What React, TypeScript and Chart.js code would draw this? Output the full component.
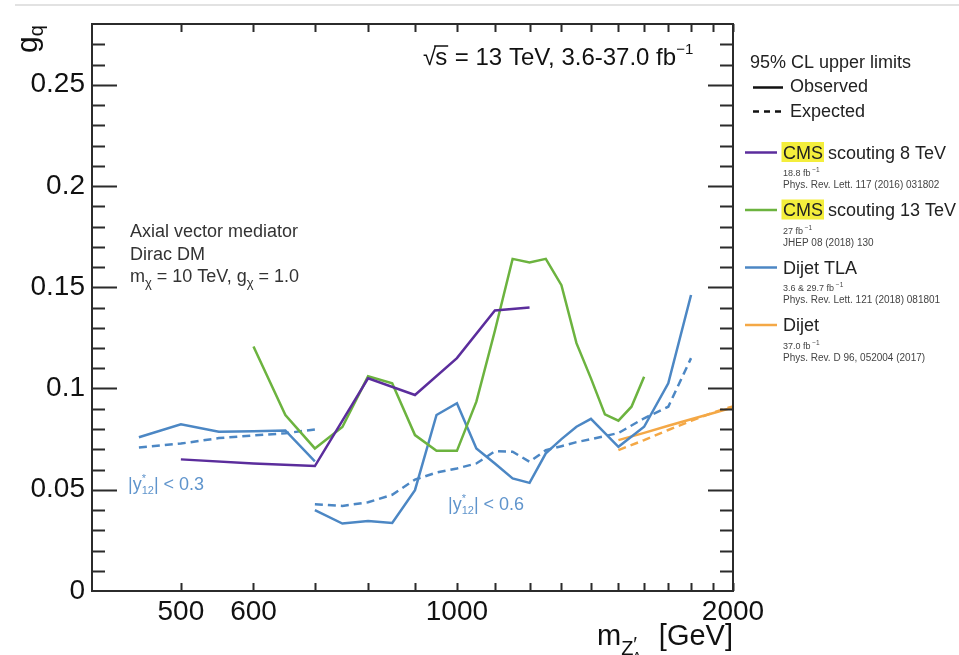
import React, { useEffect, useRef } from 'react';
import { Chart, registerables } from 'chart.js';

Chart.register(...registerables);

// ---------------- data ----------------
const xTickValues = [500, 600, 700, 800, 900, 1000, 1100, 1200, 1300, 1400, 1500, 1600, 1700, 1800, 1900, 2000];
const xLabelled = [500, 600, 1000, 2000];
const yTickValues = [0, 0.05, 0.1, 0.15, 0.2, 0.25];
const yTickLabels = ['0', '0.05', '0.1', '0.15', '0.2', '0.25'];

// Dijet TLA |y*12| < 0.3
const tla03Mass = [450, 500, 550, 600, 650, 700];
const tla03Obs = [0.0759, 0.0823, 0.0786, 0.0789, 0.0793, 0.064];
const tla03Exp = [0.0709, 0.0728, 0.0755, 0.0768, 0.0779, 0.0798];

// Dijet TLA |y*12| < 0.6
const tla06Mass = [700, 750, 800, 850, 900, 950, 1000, 1050, 1100, 1150, 1200, 1250, 1300, 1350, 1400, 1500, 1600, 1700, 1800];
const tla06Obs = [0.0399, 0.0333, 0.0346, 0.0336, 0.0498, 0.0869, 0.0927, 0.0704, 0.063, 0.0556, 0.0534, 0.068, 0.075, 0.0811, 0.085, 0.0712, 0.0811, 0.1026, 0.1462];
const tla06Exp = [0.0428, 0.042, 0.0438, 0.0475, 0.055, 0.0585, 0.0605, 0.063, 0.069, 0.0688, 0.0638, 0.0695, 0.0715, 0.0735, 0.075, 0.078, 0.0853, 0.091, 0.115];

// CMS scouting 8 TeV
const cms8Mass = [500, 600, 700, 800, 900, 1000, 1100, 1200];
const cms8Obs = [0.065, 0.063, 0.0617, 0.105, 0.0968, 0.115, 0.1385, 0.14];

// CMS scouting 13 TeV
const cms13Mass = [600, 650, 700, 750, 800, 850, 900, 950, 1000, 1050, 1100, 1150, 1200, 1250, 1300, 1350, 1400, 1450, 1500, 1550, 1600];
const cms13Obs = [0.1207, 0.0869, 0.0704, 0.081, 0.106, 0.1026, 0.077, 0.0692, 0.0692, 0.0935, 0.1285, 0.164, 0.1622, 0.164, 0.151, 0.1224, 0.105, 0.0872, 0.0841, 0.091, 0.1058];

// Dijet (37.0 fb-1)
const dijetMass = [1500, 1600, 1700, 1800, 1900, 2000];
const dijetObs = [0.0745, 0.0781, 0.0816, 0.0848, 0.0878, 0.0907];
const dijetExp = [0.0696, 0.0745, 0.0795, 0.084, 0.088, 0.0912];

// ---------------- styles ----------------
const PURPLE = '#5b2d9c';
const GREEN = '#6cb33f';
const BLUE = '#4c87c4';
const ORANGE = '#f4a846';
const LABEL_BLUE = '#5f94cc';
const FONT = '"Liberation Sans", Arial, Helvetica, sans-serif';
const f = (size: number) => `${size}px ${FONT}`;

const pts = (xs: number[], ys: number[]) => xs.map((x, i) => ({ x, y: ys[i] }));

type Part = { t: string; size: number; dy?: number; keepX?: boolean; color?: string };
function rich(ctx: CanvasRenderingContext2D, x: number, y: number, parts: Part[], color: string) {
  let cx = x;
  for (const p of parts) {
    ctx.font = f(p.size);
    ctx.fillStyle = p.color || color;
    ctx.fillText(p.t, cx, y + (p.dy || 0));
    if (!p.keepX) cx += ctx.measureText(p.t).width;
  }
  return cx;
}

const framePlugin = {
  id: 'rootFrame',
  afterDatasetsDraw(chart: any) {
    const { ctx, chartArea: a, scales } = chart;
    const xs = scales.x;
    const ys = scales.y;
    ctx.save();
    ctx.strokeStyle = '#2b2b2b';
    ctx.lineWidth = 2;
    ctx.strokeRect(a.left, a.top, a.right - a.left, a.bottom - a.top);
    ctx.lineWidth = 2;
    ctx.beginPath();
    for (let i = 1; i <= 27; i++) {
      const py = Math.round(ys.getPixelForValue(i / 100)) + 0.5;
      const len = i % 5 === 0 ? 25 : 13;
      ctx.moveTo(a.left, py);
      ctx.lineTo(a.left + len, py);
      ctx.moveTo(a.right, py);
      ctx.lineTo(a.right - len, py);
    }
    for (const m of xTickValues) {
      const px = Math.round(xs.getPixelForValue(m)) + 0.5;
      ctx.moveTo(px, a.bottom);
      ctx.lineTo(px, a.bottom - 8);
      ctx.moveTo(px, a.top);
      ctx.lineTo(px, a.top + 8);
    }
    ctx.stroke();
    ctx.restore();
  },
  afterDraw(chart: any) {
    const { ctx } = chart;
    ctx.save();
    ctx.textBaseline = 'alphabetic';
    ctx.textAlign = 'left';

    // light separator line at the top of the picture
    ctx.strokeStyle = '#e2e2e2';
    ctx.lineWidth = 2;
    ctx.beginPath();
    ctx.moveTo(15, 5);
    ctx.lineTo(959, 5);
    ctx.stroke();

    // sqrt(s) label
    ctx.fillStyle = '#111';
    ctx.font = f(24);
    const sqrtW = ctx.measureText('\u221A').width;
    ctx.fillText('\u221A', 423, 65);
    ctx.fillText('s', 423 + sqrtW - 1, 65);
    const sW = ctx.measureText('s').width;
    ctx.strokeStyle = '#111';
    ctx.lineWidth = 1.5;
    ctx.beginPath();
    ctx.moveTo(423 + sqrtW - 2, 46);
    ctx.lineTo(423 + sqrtW + sW, 46);
    ctx.stroke();
    rich(ctx, 423 + sqrtW + sW, 65, [
      { t: ' = 13 TeV, 3.6-37.0 fb', size: 24 },
      { t: '\u22121', size: 15, dy: -11 },
    ], '#111');

    // model annotation
    const ann = '#333';
    ctx.fillStyle = ann;
    ctx.font = f(18);
    ctx.fillText('Axial vector mediator', 130, 237);
    ctx.fillText('Dirac DM', 130, 260);
    rich(ctx, 130, 282, [
      { t: 'm', size: 18 },
      { t: '\u03C7', size: 13, dy: 5 },
      { t: ' = 10 TeV, g', size: 18 },
      { t: '\u03C7', size: 13, dy: 5 },
      { t: ' = 1.0', size: 18 },
    ], ann);

    // rapidity labels
    const yLabel = (x: number, y: number, cut: string) => {
      rich(ctx, x, y, [
        { t: '|y', size: 18 },
        { t: '*', size: 11, dy: -8, keepX: true },
        { t: '12', size: 11, dy: 4 },
        { t: '| < ' + cut, size: 18 },
      ], LABEL_BLUE);
    };
    yLabel(128, 490, '0.3');
    yLabel(448, 510, '0.6');

    // legend
    const lc = '#222';
    ctx.fillStyle = lc;
    ctx.font = f(18);
    ctx.fillText('95% CL upper limits', 750, 68);
    ctx.strokeStyle = '#111';
    ctx.lineWidth = 2.5;
    ctx.beginPath();
    ctx.moveTo(753, 87.5);
    ctx.lineTo(783, 87.5);
    ctx.stroke();
    ctx.setLineDash([6, 5]);
    ctx.beginPath();
    ctx.moveTo(753, 111.5);
    ctx.lineTo(783, 111.5);
    ctx.stroke();
    ctx.setLineDash([]);
    ctx.fillText('Observed', 790, 92);
    ctx.fillText('Expected', 790, 117);

    const entries = [
      { color: PURPLE, cms: true, title: ' scouting 8 TeV', lumi: '18.8 fb', ref: 'Phys. Rev. Lett. 117 (2016) 031802', y: 152.5 },
      { color: GREEN, cms: true, title: ' scouting 13 TeV', lumi: '27 fb', ref: 'JHEP 08 (2018) 130', y: 210 },
      { color: BLUE, cms: false, title: 'Dijet TLA', lumi: '3.6 & 29.7 fb', ref: 'Phys. Rev. Lett. 121 (2018) 081801', y: 267.5 },
      { color: ORANGE, cms: false, title: 'Dijet', lumi: '37.0 fb', ref: 'Phys. Rev. D 96, 052004 (2017)', y: 325 },
    ];
    for (const e of entries) {
      ctx.strokeStyle = e.color;
      ctx.lineWidth = 2.5;
      ctx.beginPath();
      ctx.moveTo(745, e.y);
      ctx.lineTo(777, e.y);
      ctx.stroke();
      const base = e.y + 6;
      let x = 783;
      ctx.font = f(18);
      if (e.cms) {
        const w = ctx.measureText('CMS').width;
        ctx.fillStyle = '#f4ee3c';
        ctx.fillRect(x - 1.5, e.y - 10.5, w + 2.5, 20);
        ctx.fillStyle = lc;
        ctx.fillText('CMS', x, base);
        x += w;
      }
      ctx.fillStyle = lc;
      ctx.fillText(e.title, x, base);
      rich(ctx, 783, e.y + 23.5, [
        { t: e.lumi, size: 9 },
        { t: ' \u22121', size: 6.5, dy: -4 },
      ], '#444');
      ctx.font = f(10);
      ctx.fillStyle = '#444';
      ctx.fillText(e.ref, 783, e.y + 35.5);
    }

    // x axis title
    ctx.fillStyle = '#111';
    const xx = rich(ctx, 597, 645, [{ t: 'm', size: 29 }], '#111');
    ctx.font = f(20);
    ctx.fillText('Z', xx, 655);
    const zW = ctx.measureText('Z').width;
    ctx.fillText('\u2032', xx + zW, 651);
    ctx.font = f(14);
    ctx.fillText('A', xx + zW - 1, 662);
    ctx.font = f(29);
    ctx.textAlign = 'right';
    ctx.fillText('[GeV]', 733, 645);

    // y axis title (rotated)
    ctx.textAlign = 'left';
    ctx.save();
    ctx.translate(37, 53);
    ctx.rotate(-Math.PI / 2);
    ctx.font = f(30);
    ctx.fillText('g', 0, 0);
    const gW = ctx.measureText('g').width;
    ctx.font = f(20);
    ctx.fillText('q', gW, 6);
    ctx.restore();

    ctx.restore();
  },
};

export default function App() {
  const ref = useRef<HTMLCanvasElement | null>(null);

  useEffect(() => {
    const canvas = ref.current;
    if (!canvas) return;
    const line = (label: string, data: any[], color: string, dashed: boolean) => ({
      label,
      data,
      borderColor: color,
      backgroundColor: color,
      borderWidth: 2.5,
      borderDash: dashed ? [8, 5] : [],
      pointRadius: 0,
      tension: 0,
      fill: false,
    });
    const chart = new Chart(canvas, {
      type: 'line',
      data: {
        datasets: [
          line('CMS scouting 8 TeV', pts(cms8Mass, cms8Obs), PURPLE, false),
          line('CMS scouting 13 TeV', pts(cms13Mass, cms13Obs), GREEN, false),
          line('Dijet TLA |y*|<0.3 obs', pts(tla03Mass, tla03Obs), BLUE, false),
          line('Dijet TLA |y*|<0.3 exp', pts(tla03Mass, tla03Exp), BLUE, true),
          line('Dijet TLA |y*|<0.6 obs', pts(tla06Mass, tla06Obs), BLUE, false),
          line('Dijet TLA |y*|<0.6 exp', pts(tla06Mass, tla06Exp), BLUE, true),
          line('Dijet obs', pts(dijetMass, dijetObs), ORANGE, false),
          line('Dijet exp', pts(dijetMass, dijetExp), ORANGE, true),
        ],
      },
      options: {
        animation: false,
        responsive: false,
        devicePixelRatio: 1,
        layout: { padding: { left: 0, top: 24, right: 226, bottom: 0 } },
        plugins: { legend: { display: false }, tooltip: { enabled: false } },
        scales: {
          x: {
            type: 'logarithmic',
            min: 400,
            max: 2000,
            grid: { display: false, drawTicks: false },
            border: { display: false },
            afterBuildTicks: (s: any) => {
              s.ticks = xTickValues.map((v) => ({ value: v }));
            },
            afterFit: (s: any) => {
              s.height = 64;
            },
            ticks: {
              autoSkip: false,
              maxRotation: 0,
              minRotation: 0,
              padding: 4,
              color: '#111',
              font: { family: FONT, size: 28 },
              callback: (v: any) => (xLabelled.includes(Number(v)) ? String(v) : ''),
            },
          },
          y: {
            type: 'linear',
            min: 0,
            max: 0.28,
            grid: { display: false, drawTicks: false },
            border: { display: false },
            afterBuildTicks: (s: any) => {
              s.ticks = yTickValues.map((v) => ({ value: v }));
            },
            afterFit: (s: any) => {
              s.width = 92;
            },
            ticks: {
              padding: 7,
              color: '#111',
              font: { family: FONT, size: 28 },
              callback: (_v: any, i: number) => yTickLabels[i],
            },
          },
        },
      },
      plugins: [framePlugin],
    } as any);
    return () => chart.destroy();
  }, []);

  return (
    <div style={{ position: 'fixed', left: 0, top: 0, width: 959, height: 655, background: '#fff' }}>
      <canvas ref={ref} width={959} height={655} style={{ display: 'block' }} />
    </div>
  );
}
